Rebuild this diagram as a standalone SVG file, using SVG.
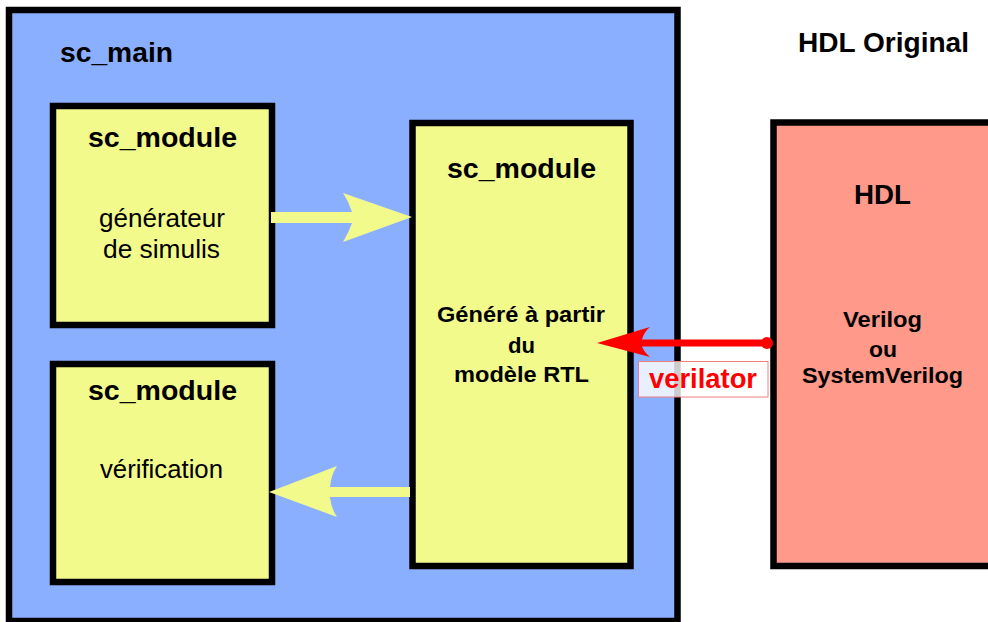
<svg xmlns="http://www.w3.org/2000/svg" width="988" height="622" viewBox="0 0 988 622">
<style>
.box{stroke:#000;stroke-width:6.5}
.main{fill:#8AAFFF}
.mod{fill:#F2FA8C}
.hdl{fill:#FF998A}
text{font-family:"Liberation Sans",Arial,Helvetica,sans-serif;fill:#000;text-anchor:middle}
.b{font-weight:bold}
.t27{font-size:27px}
.t28{font-size:28px}
.t25{font-size:25px}
.t22{font-size:22px}
.yarrow{fill:#F2FA8C}
.rarrow{fill:#FF0000}
</style>
<g id="sc_main">
<rect class="box main" x="9" y="10" width="668.5" height="611"/>
<text class="b t27" x="60" y="62" style="text-anchor:start" textLength="113" lengthAdjust="spacingAndGlyphs">sc_main</text>
</g>
<g id="hdl_original_label">
<text class="b t28" x="883.5" y="52" textLength="171" lengthAdjust="spacingAndGlyphs">HDL Original</text>
</g>
<g id="mod_gen">
<rect class="box mod" x="53" y="106" width="219" height="219"/>
<text class="b t27" x="162.5" y="147" textLength="149" lengthAdjust="spacingAndGlyphs">sc_module</text>
<text class="t25" x="162" y="227" textLength="126" lengthAdjust="spacingAndGlyphs">générateur</text>
<text class="t25" x="161.5" y="258" textLength="117" lengthAdjust="spacingAndGlyphs">de simulis</text>
</g>
<g id="mod_verif">
<rect class="box mod" x="53" y="364" width="219" height="218"/>
<text class="b t27" x="162.5" y="400" textLength="149" lengthAdjust="spacingAndGlyphs">sc_module</text>
<text class="t25" x="161.5" y="478" textLength="123" lengthAdjust="spacingAndGlyphs">vérification</text>
</g>
<g id="mod_rtl">
<rect class="box mod" x="412.5" y="123" width="218" height="443"/>
<text class="b t27" x="521.5" y="178" textLength="149" lengthAdjust="spacingAndGlyphs">sc_module</text>
<text class="b t22" x="521" y="322" textLength="168" lengthAdjust="spacingAndGlyphs">Généré à partir</text>
<text class="b t22" x="521.5" y="353" textLength="27" lengthAdjust="spacingAndGlyphs">du</text>
<text class="b t22" x="521.5" y="382" textLength="135" lengthAdjust="spacingAndGlyphs">modèle RTL</text>
</g>
<g id="hdl">
<rect class="box hdl" x="773.5" y="122.5" width="230" height="443.5"/>
<text class="b t27" x="882.5" y="204" textLength="57" lengthAdjust="spacingAndGlyphs">HDL</text>
<text class="b t22" x="882.5" y="327" textLength="79" lengthAdjust="spacingAndGlyphs">Verilog</text>
<text class="b t22" x="883" y="357" textLength="28" lengthAdjust="spacingAndGlyphs">ou</text>
<text class="b t22" x="882.5" y="383" textLength="161" lengthAdjust="spacingAndGlyphs">SystemVerilog</text>
</g>
<g id="connectors">
<path class="yarrow" d="M271,212 L352,212 Q349,202 343,193 L412,217 L343,242 Q349,232 352,223 L271,223 Z"/>
<path class="yarrow" d="M410,487 L330,487 Q331,475 337,466 L269,492 L337,517 Q331,508 330,497 L410,497 Z"/>
<path class="rarrow" d="M767,339.5 L642,339.5 Q644,332 650,327 L597,343 L650,357 Q644,352 642,346.5 L767,346.5 Z"/>
<circle class="rarrow" cx="767" cy="343" r="6"/>
<g id="verilator_label">
<rect x="638.5" y="361.5" width="129.5" height="35.5" fill="#FFFFFF" fill-opacity="0.8" stroke="#F08080" stroke-width="1"/>
<text class="b t28" x="703" y="388" style="fill:#FF0000" textLength="108" lengthAdjust="spacingAndGlyphs">verilator</text>
</g>
</g>
</svg>
